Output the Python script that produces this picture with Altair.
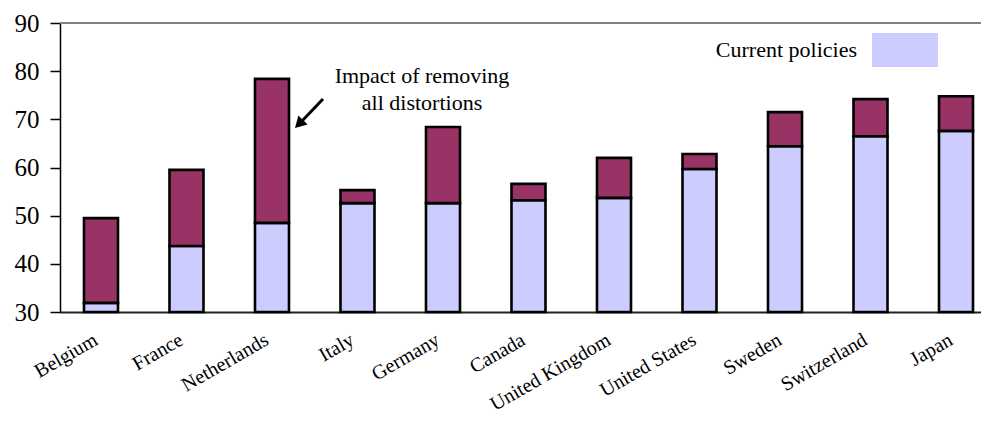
import altair as alt
import pandas as pd

countries = ["Belgium", "France", "Netherlands", "Italy", "Germany", "Canada",
             "United Kingdom", "United States", "Sweden", "Switzerland", "Japan"]
current = [31.9, 43.7, 48.5, 52.6, 52.6, 53.2, 53.7, 59.7, 64.4, 66.5, 67.6]
total = [49.5, 59.5, 78.4, 55.3, 68.4, 56.6, 62.0, 62.8, 71.5, 74.2, 74.8]
y_ticks = [30, 40, 50, 60, 70, 80, 90]
axis_min = 30
axis_max = 90
series_names = ["Current policies", "Impact of removing all distortions"]
series_colors = ["#CCCCFF", "#993366"]
legend_label = "Current policies"
annotation = "Impact of removing\nall distortions"

rows = []
for c, cur, tot in zip(countries, current, total):
    rows.append({"country": c, "series": series_names[0], "start": axis_min, "end": cur})
    rows.append({"country": c, "series": series_names[1], "start": cur, "end": tot})
df = pd.DataFrame(rows)

FONT = "Liberation Serif"
one = pd.DataFrame({"_": [0]})

bars = alt.Chart(df).mark_bar(stroke="black", strokeWidth=2.6).encode(
    x=alt.X("country:N", sort=countries, title=None,
            scale=alt.Scale(paddingInner=0.6023, paddingOuter=0.187, align=0.75),
            axis=alt.Axis(labelAngle=-30, labelAlign="right", labelBaseline="middle",
                          labelFont=FONT, labelFontSize=20, labelColor="black",
                          labelPadding=26, labelOffset=-5, ticks=False,
                          domainColor="#222222", domainWidth=2)),
    y=alt.Y("end:Q", title=None,
            scale=alt.Scale(domain=[axis_min, axis_max], nice=False, zero=False),
            axis=alt.Axis(values=y_ticks, grid=False, tickSize=10, tickColor="black",
                          tickWidth=1.5, labelFont=FONT, labelFontSize=25,
                          labelColor="black", labelPadding=11,
                          domainColor="black", domainWidth=1.5)),
    y2="start:Q",
    color=alt.Color("series:N", scale=alt.Scale(domain=series_names, range=series_colors),
                    legend=None),
    order=alt.Order("series:N"),
)

top_line = alt.Chart(one).mark_rule(color="#808080", strokeWidth=2).encode(
    y=alt.datum(axis_max), x=alt.value(0), x2=alt.value(921)
)

legend_rect = alt.Chart(one).mark_rect(color=series_colors[0]).encode(
    x=alt.value(812), x2=alt.value(878), y=alt.value(10), y2=alt.value(44)
)
legend_text = alt.Chart(one).mark_text(
    font=FONT, fontSize=22, align="right", baseline="middle", color="black"
).encode(x=alt.value(797), y=alt.value(27), text=alt.value(legend_label))

annot_text = alt.Chart(one).mark_text(
    font=FONT, fontSize=22, align="center", baseline="middle", color="black",
    lineBreak="\n", lineHeight=27
).encode(x=alt.value(362), y=alt.value(53), text=alt.value(annotation))

arrow_line = alt.Chart(one).mark_rule(color="black", strokeWidth=3).encode(
    x=alt.value(263), y=alt.value(76), x2=alt.value(242), y2=alt.value(98)
)
arrow_head = alt.Chart(one).mark_point(
    shape="triangle-up", filled=True, color="black", opacity=1, size=170, angle=225
).encode(x=alt.value(239), y=alt.value(101))

chart = alt.layer(
    top_line, bars, legend_rect, legend_text, annot_text, arrow_line, arrow_head
).properties(
    width=921, height=289,
    autosize=alt.AutoSizeParams(type="none"),
    padding={"left": 52, "top": 15, "right": 0, "bottom": 106},
).configure_view(stroke=None)

chart.save("out.html", embed_options={"renderer": "svg", "actions": False})
